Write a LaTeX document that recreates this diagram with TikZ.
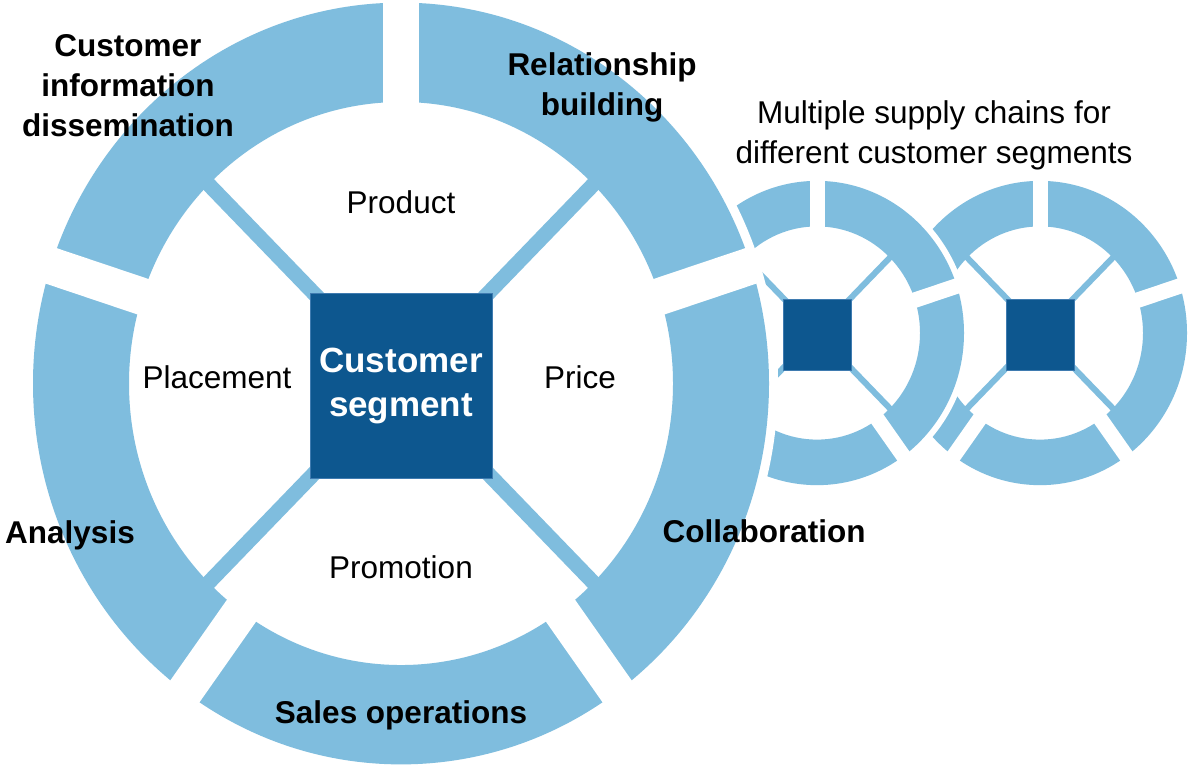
\documentclass[tikz,border=0pt]{standalone}
\usepackage{fontspec}
\setmainfont{Liberation Sans}
\usetikzlibrary{positioning}

\definecolor{ringblue}{HTML}{7FBDDE}
\definecolor{hubblue}{HTML}{0D578F}
\definecolor{hubedge}{HTML}{3F7BB0}

% centre, outer radius, inner radius, gap, spoke width, white border
\newcommand{\drawwheel}[6]{%
  \begin{scope}[shift={#1}, yscale=1.035]
    \fill[white] (0,0) circle[radius=#2+#6];
    \fill[ringblue, even odd rule] (0,0) circle[radius=#2] (0,0) circle[radius=#3];
    \foreach \a in {18,90,...,306}
      \fill[white, rotate=\a] (#3-3,-#4/2) rectangle (#2+2,#4/2);
    \foreach \a in {45,135,225,315}
      \draw[ringblue, line width=#5] (0,0) -- (\a:#3+2);
  \end{scope}}

\begin{document}
\begin{tikzpicture}[x=1pt, y=-1pt,
    hub/.style={fill=hubblue, draw=hubedge, line width=0.8pt, inner sep=0pt},
    rimtext/.style={font=\fontsize{31.5}{40}\selectfont\bfseries, align=center, inner sep=0pt},
    midtext/.style={font=\fontsize{31.5}{40}\selectfont, align=center, inner sep=0pt}]
    \useasboundingbox (0,0) rectangle (1190,764);

    % small wheels, back to front
    \drawwheel{(1040,333)}{147}{103}{15}{6pt}{6}
    \node[hub, minimum width=68pt, minimum height=71pt] (hubC) at (1040,334.5) {};
    \drawwheel{(817,333)}{147}{103}{15}{6pt}{6}
    \node[hub, minimum width=68pt, minimum height=71pt] (hubB) at (817,334.5) {};

    % main wheel
    \drawwheel{(401,383.5)}{368}{272}{36}{15pt}{9}
    \node[hub, minimum width=182pt, minimum height=185pt, text=white,
        font=\fontsize{35}{44}\selectfont\bfseries, align=center] (segment) at (401,385.5) {Customer\\segment};

    \node[rimtext] (info) at (128,86) {Customer\\information\\dissemination};
    \node[rimtext] (relation) at (602,87) {Relationship\\building};
    \node[rimtext, anchor=base] (analysis) at (70,543) {Analysis};
    \node[rimtext, anchor=base] (collab) at (764,542) {Collaboration};
    \node[rimtext, anchor=base] (sales) at (401,723) {Sales operations};

    \node[midtext, anchor=base] (product) at (401,213) {Product};
    \node[midtext, anchor=base] (placement) at (217,388) {Placement};
    \node[midtext, anchor=base] (price) at (580,388) {Price};
    \node[midtext, anchor=base] (promotion) at (401,578) {Promotion};

    \node[midtext] (chains) at (934,135) {Multiple supply chains for\\different customer segments};
\end{tikzpicture}
\end{document}
